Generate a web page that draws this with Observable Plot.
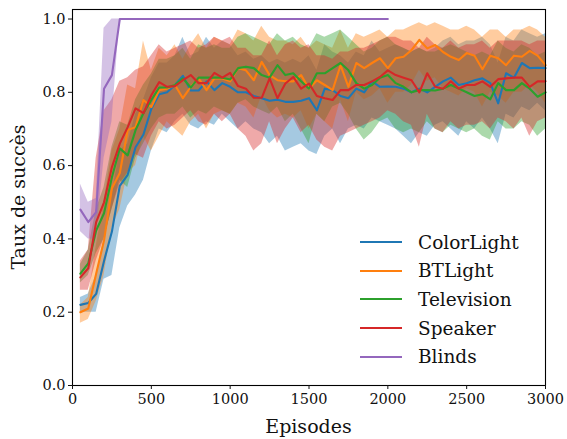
<!DOCTYPE html>
<html>
<head>
<meta charset="utf-8">
<script src="https://cdn.jsdelivr.net/npm/d3@7"></script>
<script src="https://cdn.jsdelivr.net/npm/@observablehq/plot@0.6"></script>
<style>
  html, body { margin: 0; padding: 0; background: #fff; }
  #wrap { position: relative; width: 567px; height: 439px; font-family: "DejaVu Serif", serif; }
  #legend { position: absolute; left: 360px; top: 228px; font-size: 18.5px; color: #111; }
  #legend .row { display: flex; align-items: center; height: 28.6px; }
  #legend .sw { width: 42px; height: 2px; margin-right: 16px; }
</style>
</head>
<body>
<div id="wrap"><div id="legend"></div></div>
<script>
const episodes = d3.range(50, 3001, 50);
const seriesNames = ["ColorLight", "BTLight", "Television", "Speaker", "Blinds"];
const colors = ["#1f77b4", "#ff7f0e", "#2ca02c", "#d62728", "#9467bd"];
const xTicks = [0, 500, 1000, 1500, 2000, 2500, 3000];
const yTicks = [0.0, 0.2, 0.4, 0.6, 0.8, 1.0];

const colorLightMean = [.22,.225,.25,.34,.42,.545,.575,.65,.685,.755,.795,.80,.82,.845,.805,.805,.83,.806,.825,.815,.80,.80,.79,.784,.777,.78,.774,.774,.777,.784,.751,.81,.806,.79,.784,.81,.80,.83,.815,.816,.815,.81,.80,.81,.80,.815,.83,.84,.82,.825,.833,.838,.825,.77,.852,.84,.88,.866,.867,.866];
const colorLightLo = [.20,.20,.20,.29,.30,.43,.49,.52,.56,.64,.70,.69,.72,.74,.71,.70,.72,.71,.74,.72,.70,.72,.70,.69,.66,.68,.64,.65,.66,.64,.63,.68,.70,.66,.70,.71,.70,.73,.72,.71,.70,.68,.66,.69,.68,.71,.72,.70,.68,.72,.70,.73,.70,.66,.74,.73,.76,.75,.77,.75];
const colorLightHi = [.24,.25,.30,.40,.52,.64,.66,.74,.78,.84,.88,.88,.90,.95,.90,.91,.95,.92,.94,.93,.90,.91,.89,.90,.88,.89,.88,.89,.88,.90,.86,.93,.91,.90,.88,.91,.90,.94,.91,.92,.93,.92,.91,.92,.91,.92,.94,.95,.93,.94,.94,.95,.93,.88,.95,.94,.97,.96,.95,.96];

const btLightMean = [.20,.21,.305,.396,.538,.58,.697,.705,.779,.76,.806,.81,.82,.784,.815,.838,.806,.838,.838,.83,.866,.86,.833,.883,.847,.833,.83,.83,.847,.81,.833,.82,.806,.874,.815,.88,.866,.88,.893,.866,.893,.897,.915,.943,.92,.929,.91,.897,.888,.907,.90,.863,.90,.893,.874,.90,.897,.913,.90,.874];
const btLightLo = [.17,.18,.23,.30,.43,.48,.58,.60,.68,.64,.68,.72,.70,.68,.72,.74,.70,.74,.75,.74,.77,.76,.73,.79,.75,.73,.74,.73,.75,.70,.74,.72,.70,.78,.72,.80,.78,.79,.81,.77,.80,.80,.82,.86,.83,.84,.81,.80,.79,.81,.80,.76,.80,.79,.77,.80,.80,.82,.80,.77];
const btLightHi = [.22,.24,.38,.50,.64,.70,.82,.81,.94,.86,.92,.90,.93,.89,.93,.96,.92,.95,.94,.93,.97,.96,.94,.98,.95,.94,.94,.93,.95,.92,.94,.93,.92,.97,.92,.96,.95,.96,.97,.95,.97,.97,.98,.99,.98,.99,.98,.97,.97,.98,.97,.95,.97,.97,.95,.97,.97,.98,.97,.95];

const televisionMean = [.305,.333,.423,.47,.568,.647,.628,.697,.743,.779,.813,.813,.82,.838,.813,.84,.84,.84,.84,.835,.866,.87,.866,.847,.84,.874,.847,.852,.83,.81,.852,.852,.866,.88,.86,.825,.81,.82,.84,.847,.825,.815,.80,.806,.806,.805,.81,.82,.81,.80,.79,.795,.781,.825,.806,.806,.825,.81,.788,.80];
const televisionLo = [.28,.30,.36,.40,.48,.56,.54,.62,.66,.70,.73,.74,.74,.76,.73,.75,.74,.76,.75,.74,.77,.78,.76,.75,.74,.76,.72,.74,.70,.66,.74,.72,.76,.77,.74,.70,.67,.69,.72,.73,.70,.69,.70,.69,.72,.70,.69,.71,.70,.69,.70,.68,.67,.72,.70,.70,.72,.71,.68,.70];
const televisionHi = [.33,.37,.48,.54,.65,.72,.71,.78,.82,.85,.89,.89,.90,.92,.89,.93,.92,.93,.92,.92,.95,.96,.95,.94,.93,.96,.94,.95,.93,.92,.96,.95,.96,.97,.95,.93,.91,.92,.94,.95,.93,.92,.91,.92,.91,.91,.92,.93,.92,.91,.90,.91,.90,.94,.92,.91,.93,.92,.90,.91];

const speakerMean = [.295,.32,.446,.50,.596,.66,.705,.756,.743,.792,.828,.815,.817,.833,.847,.825,.825,.853,.84,.853,.817,.81,.785,.785,.838,.784,.824,.842,.81,.824,.79,.784,.779,.806,.806,.82,.82,.83,.842,.86,.847,.84,.833,.80,.852,.815,.81,.83,.81,.82,.82,.83,.815,.836,.838,.84,.84,.815,.83,.83];
const speakerLo = [.26,.26,.34,.40,.48,.55,.58,.63,.62,.68,.72,.70,.71,.73,.75,.72,.71,.74,.72,.74,.70,.68,.64,.66,.72,.66,.70,.73,.69,.71,.67,.65,.64,.68,.69,.70,.71,.72,.73,.75,.74,.72,.71,.65,.74,.70,.69,.72,.70,.71,.71,.72,.70,.73,.72,.70,.73,.68,.72,.73];
const speakerHi = [.34,.37,.62,.75,.78,.83,.84,.86,.87,.90,.93,.91,.92,.93,.94,.92,.93,.95,.94,.95,.92,.92,.90,.90,.94,.90,.93,.94,.92,.93,.90,.90,.89,.91,.91,.92,.92,.93,.94,.95,.95,.94,.94,.92,.95,.93,.92,.94,.92,.93,.93,.94,.92,.94,.94,.94,.94,.93,.94,.94];

const blindsMean = [.48,.446,.473,.81,.847,1,1,1,1,1,1,1,1,1,1,1,1,1,1,1,1,1,1,1,1,1,1,1,1,1,1,1,1,1,1,1,1,1,1,1];
const blindsLo = [.42,.40,.40,.62,.72,1,1,1,1,1,1,1,1,1,1,1,1,1,1,1,1,1,1,1,1,1,1,1,1,1,1,1,1,1,1,1,1,1,1,1];
const blindsHi = [.55,.50,.51,.975,1,1,1,1,1,1,1,1,1,1,1,1,1,1,1,1,1,1,1,1,1,1,1,1,1,1,1,1,1,1,1,1,1,1,1,1];

const means = [colorLightMean, btLightMean, televisionMean, speakerMean, blindsMean];
const los = [colorLightLo, btLightLo, televisionLo, speakerLo, blindsLo];
const his = [colorLightHi, btLightHi, televisionHi, speakerHi, blindsHi];

const rows = [];
seriesNames.forEach((name, s) => {
  means[s].forEach((m, i) => rows.push({series: name, ep: episodes[i], mean: m, lo: los[s][i], hi: his[s][i]}));
});

const font = "DejaVu Serif, serif";

const marks = [];
seriesNames.forEach((name, s) => {
  marks.push(Plot.areaY(rows.filter(r => r.series === name), {
    x: "ep", y1: "lo", y2: "hi", fill: colors[s], fillOpacity: 0.4
  }));
});
seriesNames.forEach((name, s) => {
  marks.push(Plot.lineY(rows.filter(r => r.series === name), {
    x: "ep", y: "mean", stroke: colors[s], strokeWidth: 2.1
  }));
});
marks.push(Plot.frame({stroke: "#000", strokeWidth: 1.1}));
marks.push(Plot.axisX({ticks: xTicks, tickSize: 4, tickPadding: 4, tickFormat: d3.format("d"), fontSize: 14.5, label: null}));
marks.push(Plot.axisY({ticks: yTicks, tickSize: 4, tickPadding: 3, tickFormat: d3.format(".1f"), fontSize: 14.5, label: null}));

const chart = Plot.plot({
  width: 567,
  height: 439,
  marginTop: 9,
  marginRight: 22,
  marginBottom: 54,
  marginLeft: 72,
  style: {fontFamily: font, color: "#111", background: "#fff", overflow: "visible"},
  x: {domain: [0, 3000]},
  y: {domain: [0, 1.026]},
  marks
});

const svg = d3.select(chart);
svg.append("text")
  .attr("x", 308.5).attr("y", 433)
  .attr("text-anchor", "middle")
  .attr("font-family", font).attr("font-size", 19).attr("fill", "#111")
  .text("Episodes");
svg.append("text")
  .attr("transform", "translate(25,197) rotate(-90)")
  .attr("text-anchor", "middle")
  .attr("font-family", font).attr("font-size", 19).attr("fill", "#111")
  .text("Taux de succès");

const wrap = document.getElementById("wrap");
wrap.insertBefore(chart, wrap.firstChild);
chart.style.position = "absolute";
chart.style.left = "0px";
chart.style.top = "0px";

const legend = document.getElementById("legend");
seriesNames.forEach((name, s) => {
  const row = document.createElement("div");
  row.className = "row";
  const sw = document.createElement("div");
  sw.className = "sw";
  sw.style.background = colors[s];
  const label = document.createElement("span");
  label.textContent = name;
  row.appendChild(sw);
  row.appendChild(label);
  legend.appendChild(row);
});
</script>
</body>
</html>
